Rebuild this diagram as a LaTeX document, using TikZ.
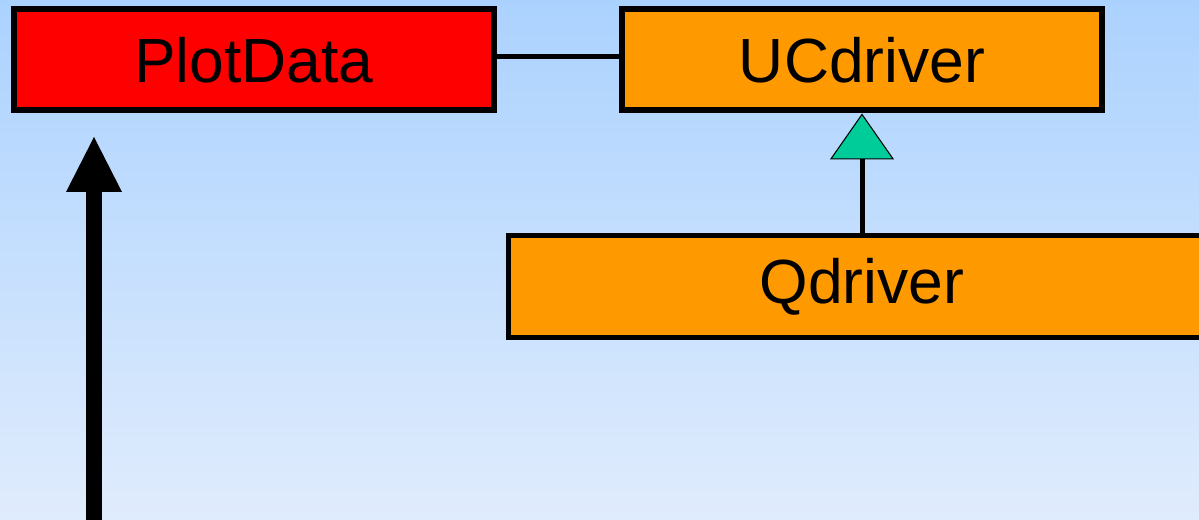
\documentclass[tikz,border=0pt]{standalone}
\usepackage{fontspec}
\setmainfont{Liberation Sans}
\usetikzlibrary{arrows.meta}

\definecolor{bgtop}{RGB}{171,210,254}
\definecolor{bgbot}{RGB}{224,236,253}
\definecolor{plotred}{RGB}{255,0,0}
\definecolor{drvorange}{RGB}{255,153,0}
\definecolor{inhgreen}{RGB}{0,204,153}

\tikzset{
  classbox/.style={draw=black,line width=0.12cm,minimum height=2.03cm,
    font=\fontsize{35.5}{40}\selectfont,inner sep=0pt},
  assoc/.style={draw=black,line width=0.1cm},
  inherits/.style={draw=black,line width=0.1cm,
    -{Triangle[width=1.28cm,length=0.92cm,line width=0.6pt,fill=inhgreen]}},
  flow/.style={draw=black,line width=0.32cm,
    -{Triangle[width=1.12cm,length=1.1cm,line width=0pt]}}
}

\begin{document}
\begin{tikzpicture}
  \useasboundingbox (0,0) rectangle (23.98,10.4);
  \clip (0,0) rectangle (23.98,10.4);
  \shade[top color=bgtop,bottom color=bgbot] (0,0) rectangle (23.98,10.4);
  % class boxes
  \node[classbox,fill=plotred,minimum width=9.6cm]     (PlotData) at (5.08,9.205) {PlotData};
  \node[classbox,fill=drvorange,minimum width=9.6cm]   (UCdriver) at (17.24,9.205) {UCdriver};
  \node[classbox,fill=drvorange,minimum width=14.16cm,minimum height=2.04cm,line width=0.1cm] (Qdriver) at (17.24,4.67) {Qdriver};
  % links
  \draw[assoc] ([yshift=0.055cm]PlotData.east) -- ([yshift=0.055cm]UCdriver.west);
  \draw[inherits] (Qdriver.north) -- (UCdriver.south);
  % incoming data
  \coordinate (feed) at (1.88,0);
  \coordinate (feedtop) at (1.88,7.66);
  \draw[flow] (feed) -- (feedtop);
\end{tikzpicture}
\end{document}
